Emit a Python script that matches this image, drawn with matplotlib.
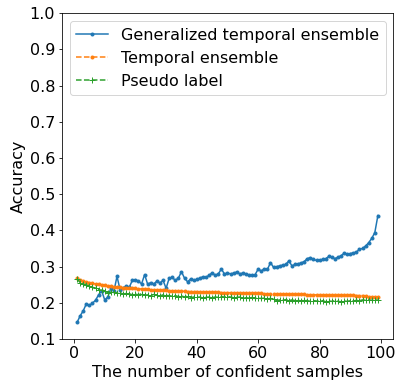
import matplotlib
matplotlib.use("Agg")
import matplotlib.pyplot as plt

# number of confident samples
samples = list(range(1, 100))

gte_acc = [
    0.146, 0.164, 0.178, 0.197, 0.193, 0.199, 0.207, 0.222, 0.233, 0.208,
    0.216, 0.240, 0.232, 0.273, 0.236, 0.240, 0.247, 0.243, 0.262, 0.264,
    0.260, 0.252, 0.278, 0.251, 0.256, 0.252, 0.260, 0.255, 0.262, 0.240,
    0.268, 0.270, 0.262, 0.268, 0.286, 0.268, 0.258, 0.266, 0.262, 0.265,
    0.268, 0.272, 0.270, 0.276, 0.283, 0.276, 0.280, 0.293, 0.280, 0.282,
    0.280, 0.282, 0.285, 0.280, 0.282, 0.280, 0.277, 0.276, 0.278, 0.293,
    0.288, 0.294, 0.292, 0.311, 0.298, 0.300, 0.302, 0.304, 0.306, 0.316,
    0.302, 0.306, 0.308, 0.310, 0.314, 0.322, 0.325, 0.320, 0.317, 0.318,
    0.320, 0.322, 0.328, 0.326, 0.322, 0.326, 0.330, 0.337, 0.334, 0.336,
    0.338, 0.340, 0.348, 0.350, 0.357, 0.366, 0.378, 0.394, 0.441,
]

te_acc = [
    0.268, 0.262, 0.260, 0.257, 0.256, 0.254, 0.252, 0.251, 0.250, 0.249,
    0.247, 0.246, 0.245, 0.244, 0.243, 0.242, 0.242, 0.241, 0.240, 0.240,
    0.239, 0.238, 0.238, 0.237, 0.236, 0.236, 0.235, 0.235, 0.234, 0.234,
    0.233, 0.233, 0.233, 0.232, 0.232, 0.232, 0.231, 0.231, 0.231, 0.231,
    0.230, 0.230, 0.230, 0.229, 0.229, 0.229, 0.229, 0.228, 0.228, 0.228,
    0.228, 0.228, 0.227, 0.227, 0.227, 0.227, 0.226, 0.226, 0.226, 0.226,
    0.226, 0.225, 0.225, 0.225, 0.225, 0.224, 0.224, 0.224, 0.224, 0.224,
    0.224, 0.223, 0.223, 0.223, 0.223, 0.222, 0.222, 0.222, 0.222, 0.222,
    0.222, 0.221, 0.221, 0.221, 0.221, 0.221, 0.221, 0.221, 0.221, 0.221,
    0.221, 0.220, 0.220, 0.220, 0.219, 0.217, 0.216, 0.215, 0.215,
]

pl_acc = [
    0.266, 0.256, 0.252, 0.250, 0.246, 0.243, 0.240, 0.236, 0.235, 0.232,
    0.228, 0.230, 0.229, 0.226, 0.228, 0.224, 0.226, 0.225, 0.222, 0.224,
    0.222, 0.225, 0.221, 0.222, 0.220, 0.223, 0.221, 0.219, 0.222, 0.220,
    0.220, 0.218, 0.220, 0.217, 0.219, 0.216, 0.218, 0.214, 0.216, 0.215,
    0.216, 0.213, 0.215, 0.216, 0.214, 0.216, 0.215, 0.217, 0.216, 0.217,
    0.216, 0.214, 0.215, 0.216, 0.212, 0.214, 0.213, 0.215, 0.212, 0.213,
    0.212, 0.213, 0.211, 0.212, 0.210, 0.206, 0.208, 0.207, 0.209, 0.206,
    0.208, 0.206, 0.207, 0.205, 0.207, 0.206, 0.204, 0.206, 0.205, 0.204,
    0.206, 0.203, 0.205, 0.204, 0.206, 0.204, 0.203, 0.205, 0.204, 0.206,
    0.205, 0.207, 0.206, 0.208, 0.207, 0.208, 0.207, 0.207, 0.208,
]

plt.rcParams["font.size"] = 16

DPI = 72
fig = plt.figure(figsize=(403 / DPI, 387 / DPI), dpi=DPI)
ax = fig.add_axes([0.154, 0.124, 0.821, 0.842])

ax.plot(samples, gte_acc, "-", marker=".", label="Generalized temporal ensemble")
ax.plot(samples, te_acc, "--", marker=".", label="Temporal ensemble")
ax.plot(samples, pl_acc, "--", marker="+", label="Pseudo label")

ax.set_ylim(0.1, 1.0)
ax.set_yticks([0.1, 0.2, 0.3, 0.4, 0.5, 0.6, 0.7, 0.8, 0.9, 1.0])
ax.set_xlabel("The number of confident samples")
ax.set_ylabel("Accuracy")
ax.legend(loc="upper left")

fig.savefig("out.png", dpi=DPI)
